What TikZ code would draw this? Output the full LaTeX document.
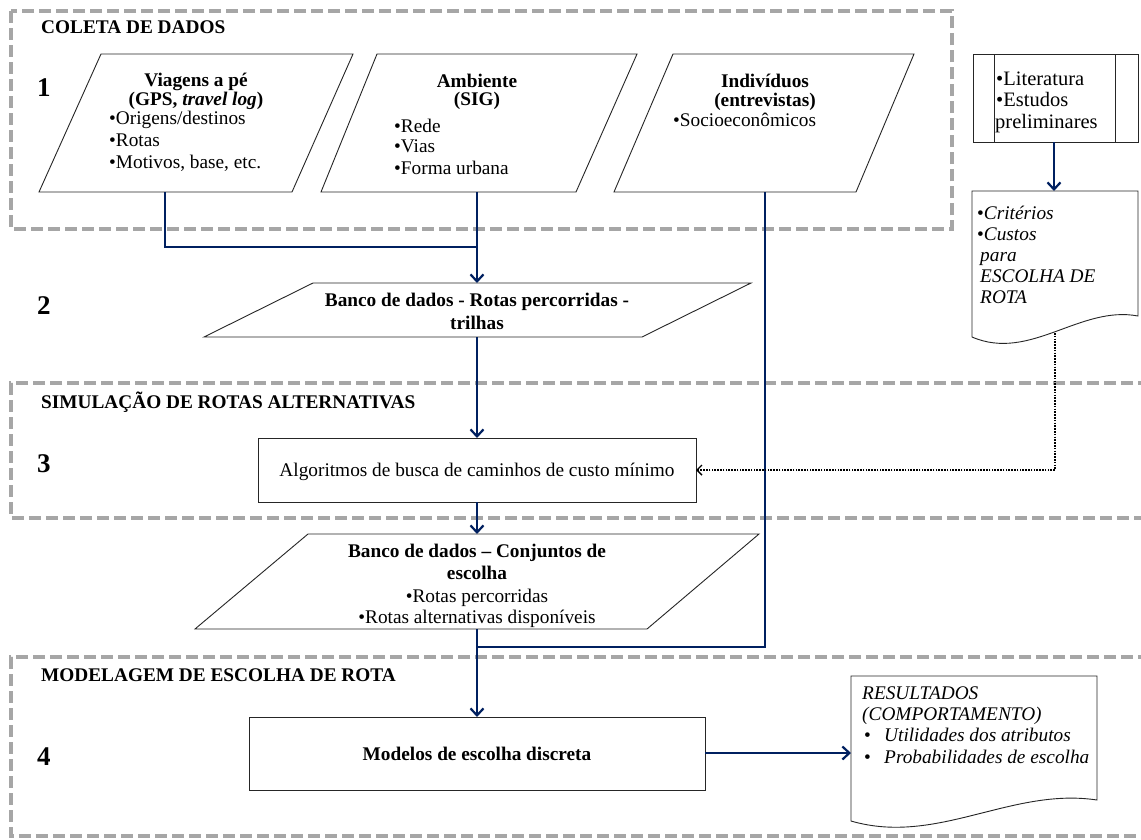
\documentclass[tikz,border=0pt]{standalone}
\usepackage{fontspec}
\setmainfont{Liberation Serif}
\usetikzlibrary{arrows.meta}
\definecolor{navy}{RGB}{0,32,96}
\definecolor{grpgray}{RGB}{166,166,166}
\newcommand\fsn{\fontsize{19.3}{21}\selectfont}
\newcommand\fsl{\fontsize{20.5}{22}\selectfont}
\newcommand\fsnum{\fontsize{27}{29}\selectfont\bfseries}
\begin{document}
\begin{tikzpicture}[x=1pt,y=-1pt,
  grpbox/.style={draw=grpgray, line width=3.5pt, dash pattern=on 12pt off 5pt},
  shp/.style={draw=black!85, line width=0.9pt, fill=white},
  conn/.style={draw=navy, line width=2.2pt},
  arr/.style={conn, -{Straight Barb[length=7pt,width=13pt]}},
  dotarr/.style={draw=black, line width=1.6pt, dash pattern=on 1.6pt off 1.2pt, -{Straight Barb[length=5pt,width=10pt,line width=1.4pt]}},
  t/.style={font=\fsn, inner sep=0pt, anchor=base},
  tl/.style={font=\fsn, inner sep=0pt, anchor=base west},
  tb/.style={font=\fsn\bfseries, inner sep=0pt, anchor=base},
  ttl/.style={font=\fsn\bfseries, inner sep=0pt, anchor=base west},
  num/.style={font=\fsnum, inner sep=0pt, anchor=base west},
  lit/.style={font=\fsl, inner sep=0pt, anchor=base west},
  it/.style={font=\fsn\itshape, inner sep=0pt, anchor=base west}
]
\useasboundingbox (0,0) rectangle (1141,839);
\fill[white] (0,0) rectangle (1141,839);

% group boxes
\draw[grpbox] (11,11) rectangle (952,229);
\draw[grpbox] (1150,383) -- (11,383) -- (11,518) -- (1150,518);
\draw[grpbox] (1150,657) -- (11,657) -- (11,836) -- (1150,836);

% section titles and numbers
\node[ttl] (tcol) at (41,33) {COLETA DE DADOS};
\node[ttl] (tsim) at (41,408) {SIMULAÇÃO DE ROTAS ALTERNATIVAS};
\node[ttl] (tmod) at (41,681) {MODELAGEM DE ESCOLHA DE ROTA};
\node[num] (n1) at (37,96) {1};
\node[num] (n2) at (37,314) {2};
\node[num] (n3) at (37,472) {3};
\node[num] (n4) at (37,765) {4};

% parallelograms
\draw[shp] (39,192) -- (101,54) -- (353,54) -- (292,192) -- cycle;
\draw[shp] (321,192) -- (377,54) -- (637,54) -- (576,192) -- cycle;
\draw[shp] (614,192) -- (673,54) -- (914,54) -- (856,192) -- cycle;

\node[tb] (p1a) at (196,86) {Viagens a pé};
\node[tb] (p1b) at (196,105) {(GPS, \textit{travel log})};
\node[tl] (p1c) at (109,124) {•Origens/destinos};
\node[tl] (p1d) at (109,146) {•Rotas};
\node[tl] (p1e) at (109,168) {•Motivos, base, etc.};

\node[tb] (p2a) at (477,87) {Ambiente};
\node[tb] (p2b) at (477,105) {(SIG)};
\node[tl] (p2c) at (394,132) {•Rede};
\node[tl] (p2d) at (394,152) {•Vias};
\node[tl] (p2e) at (394,174) {•Forma urbana};

\node[tb] (p3a) at (765,87) {Indivíduos};
\node[tb] (p3b) at (765,106) {(entrevistas)};
\node[tl] (p3c) at (673,126) {•Socioeconômicos};

% literatura box
\draw[shp] (973,54) rectangle (1138,142);
\draw[shp] (994,54) -- (994,142);
\draw[shp] (1115,54) -- (1115,142);
\node[lit] (l1) at (996,85) {•Literatura};
\node[lit] (l2) at (996,106) {•Estudos};
\node[lit] (l3) at (995,128) {preliminares};

% criterios document
\draw[shp] (972,191) -- (1138,191) -- (1138,316) .. controls (1080,305) and (1030,362) .. (972,337) -- cycle;
\node[tl] (c1) at (977,219) {•\textit{Critérios}};
\node[tl] (c2) at (977,240) {•\textit{Custos}};
\node[it] (c3) at (980,261) {para};
\node[it] (c4) at (980,282) {ESCOLHA DE};
\node[it] (c5) at (980,303) {ROTA};

% banco 1
\draw[shp] (204,337) -- (313,283) -- (751,283) -- (642,337) -- cycle;
\node[tb] (b1a) at (477,306) {Banco de dados - Rotas percorridas -};
\node[tb] (b1b) at (477,329) {trilhas};

% algoritmos
\draw[shp] (258,438) rectangle (696,502);
\node[t] (alg) at (477,476) {Algoritmos de busca de caminhos de custo mínimo};

% banco 2
\draw[shp] (195,629) -- (308,534) -- (759,534) -- (647,629) -- cycle;
\node[tb] (b2a) at (477,557) {Banco de dados – Conjuntos de};
\node[tb] (b2b) at (477,579) {escolha};
\node[t] (b2c) at (477,602) {•Rotas percorridas};
\node[t] (b2d) at (477,623) {•Rotas alternativas disponíveis};

% modelos
\draw[shp] (249,717) rectangle (705,790);
\node[tb] (mod) at (477,760) {Modelos de escolha discreta};

% resultados document
\draw[shp] (851,676) -- (1097,676) -- (1097,800) .. controls (1011,787) and (937,846) .. (851,821) -- cycle;
\node[it] (r1) at (862,699) {RESULTADOS};
\node[it] (r2) at (862,720) {(COMPORTAMENTO)};
\node[tl] (r3b) at (864,741) {•};
\node[it] (r3) at (884,741) {Utilidades dos atributos};
\node[tl] (r4b) at (864,763) {•};
\node[it] (r4) at (884,763) {Probabilidades de escolha};

% connector points
\coordinate (P1bot) at (165,192);
\coordinate (P2bot) at (477,192);
\coordinate (P3bot) at (765,192);
\coordinate (J1) at (477,247);
\coordinate (J2) at (477,647);
\coordinate (B1top) at (477,283);
\coordinate (B1bot) at (477,337);
\coordinate (ALtop) at (477,438);
\coordinate (ALbot) at (477,502);
\coordinate (ALright) at (696,470);
\coordinate (B2top) at (477,534);
\coordinate (B2bot) at (477,629);
\coordinate (MOtop) at (477,717);
\coordinate (MOright) at (705,753);
\coordinate (RSleft) at (851,753);
\coordinate (LTbot) at (1054,142);
\coordinate (CRtop) at (1054,191);
\coordinate (CRbot) at (1055,333);

% connectors
\draw[conn] (P1bot) |- (J1);
\draw[arr] (P2bot) -- (B1top);
\draw[arr] (B1bot) -- (ALtop);
\draw[arr] (ALbot) -- (B2top);
\draw[arr] (B2bot) -- (MOtop);
\draw[conn] (P3bot) |- (J2);
\draw[arr] (MOright) -- (RSleft);
\draw[arr] (LTbot) -- (CRtop);
\draw[dotarr] (CRbot) |- (ALright);
\end{tikzpicture}
\end{document}
